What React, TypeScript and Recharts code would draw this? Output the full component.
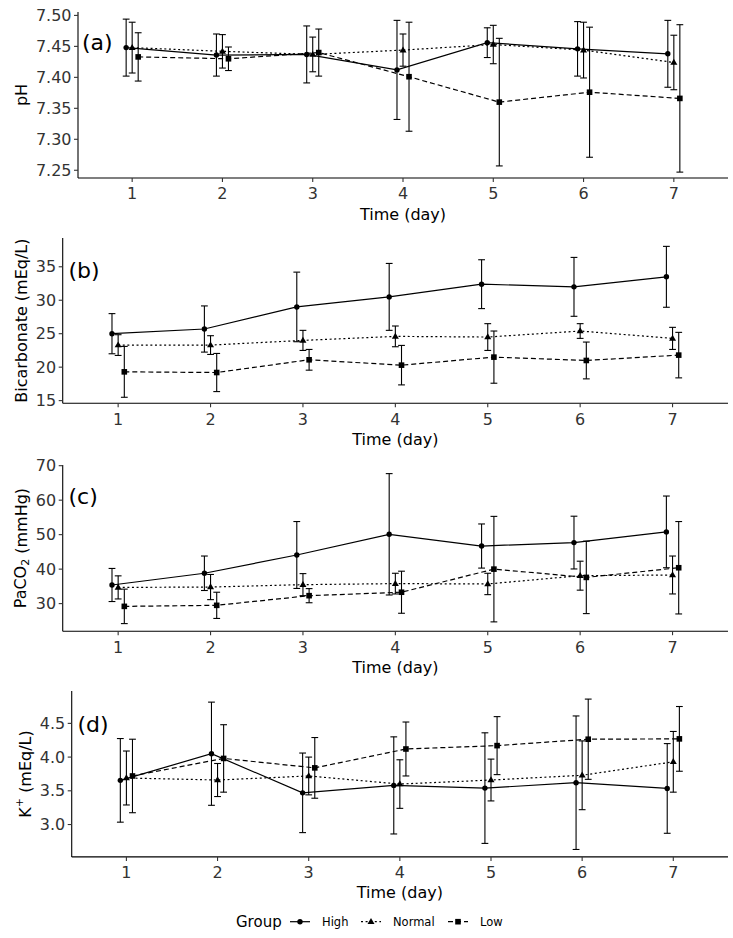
import React from 'react';
import { LineChart, Line, XAxis, YAxis, ErrorBar } from 'recharts';

// ---------- data ----------
const DAYS = [1, 2, 3, 4, 5, 6, 7];
const GROUPS = ['High', 'Normal', 'Low'];

const PH_HIGH = [7.448, 7.436, 7.437, 7.412, 7.456, 7.446, 7.438];
const PH_HIGH_SD = [0.046, 0.034, 0.046, 0.08, 0.024, 0.044, 0.054];
const PH_NORMAL = [7.448, 7.442, 7.437, 7.444, 7.453, 7.444, 7.424];
const PH_NORMAL_SD = [0.041, 0.027, 0.028, 0.026, 0.031, 0.045, 0.044];
const PH_LOW = [7.433, 7.43, 7.44, 7.401, 7.36, 7.376, 7.366];
const PH_LOW_SD = [0.039, 0.019, 0.038, 0.088, 0.103, 0.105, 0.119];

const BIC_HIGH = [25.0, 25.7, 29.0, 30.5, 32.4, 32.0, 33.5];
const BIC_HIGH_SD = [3.0, 3.45, 5.2, 5.0, 3.65, 4.4, 4.55];
const BIC_NORMAL = [23.3, 23.3, 24.0, 24.6, 24.5, 25.4, 24.3];
const BIC_NORMAL_SD = [1.55, 1.4, 1.5, 1.55, 2.0, 1.1, 1.65];
const BIC_LOW = [19.3, 19.2, 21.1, 20.3, 21.5, 21.0, 21.8];
const BIC_LOW_SD = [3.8, 2.85, 1.55, 2.95, 3.9, 2.75, 3.4];

const PCO2_HIGH = [35.4, 38.8, 44.1, 50.1, 46.7, 47.7, 50.8];
const PCO2_HIGH_SD = [4.8, 5.0, 9.7, 17.6, 6.4, 7.65, 10.4];
const PCO2_NORMAL = [34.7, 34.8, 35.5, 35.8, 35.7, 38.1, 38.3];
const PCO2_NORMAL_SD = [3.35, 3.65, 3.2, 3.0, 3.1, 4.2, 5.5];
const PCO2_LOW = [29.2, 29.5, 32.3, 33.3, 40.0, 37.6, 40.4];
const PCO2_LOW_SD = [5.0, 3.8, 2.05, 6.1, 15.3, 10.5, 13.4];

const K_HIGH = [3.655, 4.05, 3.47, 3.58, 3.54, 3.62, 3.535];
const K_HIGH_SD = [0.62, 0.765, 0.59, 0.72, 0.82, 0.99, 0.665];
const K_NORMAL = [3.69, 3.66, 3.72, 3.6, 3.66, 3.73, 3.93];
const K_NORMAL_SD = [0.4, 0.245, 0.28, 0.36, 0.31, 0.51, 0.45];
const K_LOW = [3.72, 3.98, 3.84, 4.12, 4.17, 4.265, 4.27];
const K_LOW_SD = [0.545, 0.5, 0.45, 0.4, 0.43, 0.595, 0.48];

const PH_TICKS = [7.25, 7.3, 7.35, 7.4, 7.45, 7.5];
const BIC_TICKS = [15, 20, 25, 30, 35];
const PCO2_TICKS = [30, 40, 50, 60, 70];
const K_TICKS = [3.0, 3.5, 4.0, 4.5];

// ---------- styles ----------
const FONT = '"DejaVu Sans", "Liberation Sans", Arial, sans-serif';
type Shape = 'circle' | 'triangle' | 'square';
const GROUP_STYLE: Record<string, { shape: Shape; dash?: string; dodge: number }> = {
  High: { shape: 'circle', dodge: -1 / 15 },
  Normal: { shape: 'triangle', dash: '2 2.6', dodge: 0 },
  Low: { shape: 'square', dash: '5 3', dodge: 1 / 15 },
};

function Marker({ cx, cy, shape }: { cx?: number; cy?: number; shape: Shape }) {
  if (cx == null || cy == null || isNaN(cx) || isNaN(cy)) return <g />;
  if (shape === 'circle') return <circle cx={cx} cy={cy} r={2.7} fill="#000" />;
  if (shape === 'triangle') {
    const s = 3.7;
    return (
      <polygon
        points={`${cx},${cy - s} ${cx - s * 0.95},${cy + s * 0.62} ${cx + s * 0.95},${cy + s * 0.62}`}
        fill="#000"
      />
    );
  }
  return <rect x={cx - 2.8} y={cy - 2.8} width={5.6} height={5.6} fill="#000" />;
}

function build(means: number[], sds: number[], group: string) {
  const dodge = GROUP_STYLE[group].dodge;
  return DAYS.map((d, i) => ({ x: d + dodge, v: means[i], sd: sds[i] }));
}

type PanelCfg = {
  key: string;
  letter: string;
  plotTop: number;
  plotBottom: number;
  yWidth: number;
  domain: [number, number];
  ticks: number[];
  fmt: (v: number) => string;
  titleX: number;
  title: React.ReactNode;
  letterX: number;
  letterY: number;
  series: Record<string, { x: number; v: number; sd: number }[]>;
};

const PANELS: PanelCfg[] = [
  {
    key: 'ph',
    letter: '(a)',
    plotTop: 11.7,
    plotBottom: 177.7,
    yWidth: 78,
    domain: [7.2375, 7.5055],
    ticks: PH_TICKS,
    fmt: (v) => v.toFixed(2),
    titleX: 21,
    title: 'pH',
    letterX: 82,
    letterY: 49.5,
    series: {
      High: build(PH_HIGH, PH_HIGH_SD, 'High'),
      Normal: build(PH_NORMAL, PH_NORMAL_SD, 'Normal'),
      Low: build(PH_LOW, PH_LOW_SD, 'Low'),
    },
  },
  {
    key: 'bic',
    letter: '(b)',
    plotTop: 238,
    plotBottom: 403.3,
    yWidth: 62.7,
    domain: [14.6, 39.3],
    ticks: BIC_TICKS,
    fmt: (v) => String(v),
    titleX: 21.5,
    title: 'Bicarbonate (mEq/L)',
    letterX: 68.5,
    letterY: 278.3,
    series: {
      High: build(BIC_HIGH, BIC_HIGH_SD, 'High'),
      Normal: build(BIC_NORMAL, BIC_NORMAL_SD, 'Normal'),
      Low: build(BIC_LOW, BIC_LOW_SD, 'Low'),
    },
  },
  {
    key: 'pco2',
    letter: '(c)',
    plotTop: 464.5,
    plotBottom: 630.7,
    yWidth: 62.7,
    domain: [22.0, 70.2],
    ticks: PCO2_TICKS,
    fmt: (v) => String(v),
    titleX: 20.5,
    title: (
      <>
        PaCO<tspan dy={4} fontSize={11}>2</tspan>
        <tspan dy={-4}> (mmHg)</tspan>
      </>
    ),
    letterX: 68.5,
    letterY: 504.3,
    series: {
      High: build(PCO2_HIGH, PCO2_HIGH_SD, 'High'),
      Normal: build(PCO2_NORMAL, PCO2_NORMAL_SD, 'Normal'),
      Low: build(PCO2_LOW, PCO2_LOW_SD, 'Low'),
    },
  },
  {
    key: 'k',
    letter: '(d)',
    plotTop: 690.8,
    plotBottom: 856.7,
    yWidth: 71.7,
    domain: [2.52, 4.98],
    ticks: K_TICKS,
    fmt: (v) => v.toFixed(1),
    titleX: 25,
    title: (
      <>
        K<tspan dy={-6} fontSize={11}>+</tspan>
        <tspan dy={6}> (mEq/L)</tspan>
      </>
    ),
    letterX: 77.5,
    letterY: 731.7,
    series: {
      High: build(K_HIGH, K_HIGH_SD, 'High'),
      Normal: build(K_NORMAL, K_NORMAL_SD, 'Normal'),
      Low: build(K_LOW, K_LOW_SD, 'Low'),
    },
  },
];

const X_AXIS_H = 52;
const TOP_PAD = 10;

function Panel({ cfg }: { cfg: PanelCfg }) {
  const chartTop = cfg.plotTop - TOP_PAD;
  const chartHeight = cfg.plotBottom + X_AXIS_H - chartTop;
  const cy = (cfg.plotTop + cfg.plotBottom) / 2 - chartTop;
  const yTitle = () => (
    <text
      x={cfg.titleX}
      y={cy}
      transform={`rotate(-90 ${cfg.titleX} ${cy})`}
      textAnchor="middle"
      dominantBaseline="central"
      fontSize={16}
      fontFamily={FONT}
      fill="#000"
    >
      {cfg.title}
    </text>
  );
  return (
    <div style={{ position: 'absolute', left: 0, top: chartTop }}>
      <LineChart
        width={733}
        height={chartHeight}
        margin={{ top: TOP_PAD, right: 5, bottom: 0, left: 0 }}
      >
        <XAxis
          type="number"
          dataKey="x"
          domain={[0.4, 7.6]}
          ticks={DAYS}
          interval={0}
          allowDataOverflow
          height={X_AXIS_H}
          tickSize={4}
          tickMargin={6}
          axisLine={{ stroke: '#000', strokeWidth: 1.1 }}
          tickLine={{ stroke: '#333', strokeWidth: 1.1 }}
          tick={{ fontSize: 16, fill: '#333', fontFamily: FONT }}
          label={{
            value: 'Time (day)',
            position: 'insideBottom',
            offset: 10.4,
            fill: '#000',
            fontSize: 16,
            fontFamily: FONT,
          }}
        />
        <YAxis
          type="number"
          domain={cfg.domain}
          ticks={cfg.ticks}
          interval={0}
          allowDataOverflow
          width={cfg.yWidth}
          tickFormatter={cfg.fmt}
          tickSize={4}
          tickMargin={2.5}
          axisLine={{ stroke: '#000', strokeWidth: 1.1 }}
          tickLine={{ stroke: '#333', strokeWidth: 1.1 }}
          tick={{ fontSize: 16, fill: '#333', fontFamily: FONT }}
          label={yTitle}
        />
        {GROUPS.map((g) => {
          const st = GROUP_STYLE[g];
          return (
            <Line
              key={g}
              name={g}
              data={cfg.series[g]}
              dataKey="v"
              type="linear"
              stroke="#000"
              strokeWidth={1.2}
              strokeDasharray={st.dash}
              isAnimationActive={false}
              activeDot={false}
              dot={(p: any) => (
                <Marker key={`${cfg.key}-${g}-${p.index}`} cx={p.cx} cy={p.cy} shape={st.shape} />
              )}
            >
              <ErrorBar
                dataKey="sd"
                direction="y"
                width={3.4}
                stroke="#000"
                strokeWidth={1.1}
                isAnimationActive={false}
              />
            </Line>
          );
        })}
      </LineChart>
    </div>
  );
}

function Overlay() {
  const legendItems = [
    { g: 'High', x0: 290, tx: 322 },
    { g: 'Normal', x0: 361, tx: 393 },
    { g: 'Low', x0: 448, tx: 480 },
  ];
  const ly = 921.7;
  return (
    <svg
      width={733}
      height={938}
      style={{ position: 'absolute', left: 0, top: 0, pointerEvents: 'none' }}
    >
      {PANELS.map((p) => (
        <text key={p.key} x={p.letterX} y={p.letterY} fontSize={22} fontFamily={FONT} fill="#000">
          {p.letter}
        </text>
      ))}
      <text x={236} y={927} fontSize={15} fontFamily={FONT} fill="#000">
        Group
      </text>
      {legendItems.map((it) => {
        const st = GROUP_STYLE[it.g];
        return (
          <g key={it.g}>
            <line
              x1={it.x0}
              x2={it.x0 + 20}
              y1={ly}
              y2={ly}
              stroke="#000"
              strokeWidth={1.2}
              strokeDasharray={st.dash}
            />
            <Marker cx={it.x0 + 10} cy={ly} shape={st.shape} />
            <text x={it.tx} y={926} fontSize={11.5} fontFamily={FONT} fill="#000">
              {it.g}
            </text>
          </g>
        );
      })}
    </svg>
  );
}

export default function App() {
  return (
    <div
      style={{
        position: 'absolute',
        left: 0,
        top: 0,
        width: 733,
        height: 938,
        background: '#fff',
        overflow: 'hidden',
      }}
    >
      {PANELS.map((p) => (
        <Panel key={p.key} cfg={p} />
      ))}
      <Overlay />
    </div>
  );
}
